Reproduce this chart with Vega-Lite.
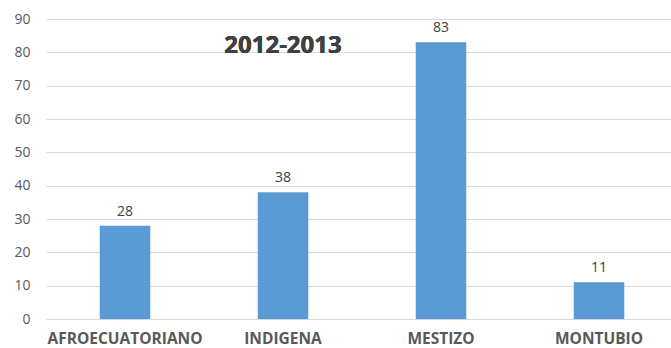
{
  "$schema": "https://vega.github.io/schema/vega-lite/v6.json",
  "width": 632,
  "height": 300,
  "autosize": {"type": "none"},
  "padding": {"left": 46, "top": 19, "right": 0, "bottom": 29},
  "background": "white",
  "config": {"view": {"stroke": null}, "font": "Open Sans"},
  "data": {"values": [
    {"grupo": "AFROECUATORIANO", "valor": 28},
    {"grupo": "INDIGENA", "valor": 38},
    {"grupo": "MESTIZO", "valor": 83},
    {"grupo": "MONTUBIO", "valor": 11}
  ]},
  "encoding": {
    "x": {"field": "grupo", "type": "nominal", "sort": null,
      "scale": {"paddingInner": 0.68, "paddingOuter": 0.34},
      "axis": {"title": null, "labelAngle": 0, "domain": false, "ticks": false, "labelPadding": 12,
        "labelFontSize": 15.5, "labelFontWeight": "bold", "labelColor": "#595959", "labelOverlap": false}},
    "y": {"field": "valor", "type": "quantitative",
       "scale": {"domain": [0, 90]},
       "axis": {"title": null, "values": [0,10,20,30,40,50,60,70,80,90], "domain": false, "ticks": false,
         "labelOverlap": false, "labelPadding": 16, "labelFontSize": 14, "labelColor": "#595959", "gridColor": "#D9D9D9", "gridWidth": 1.2}}
  },
  "layer": [
    {"mark": {"type": "bar", "color": "#5B9BD5"}},
    {"mark": {"type": "text", "dy": -14, "fontSize": 14, "color": "#404040"},
     "encoding": {"text": {"field": "valor"}}},
    {"mark": {"type": "text", "fontSize": 24, "fontWeight": "bold", "color": "#404040", "baseline": "middle"},
     "encoding": {"x": {"datum": "INDIGENA"}, "y": {"datum": 82}, "text": {"value": "2012-2013"}}}
  ]
}
